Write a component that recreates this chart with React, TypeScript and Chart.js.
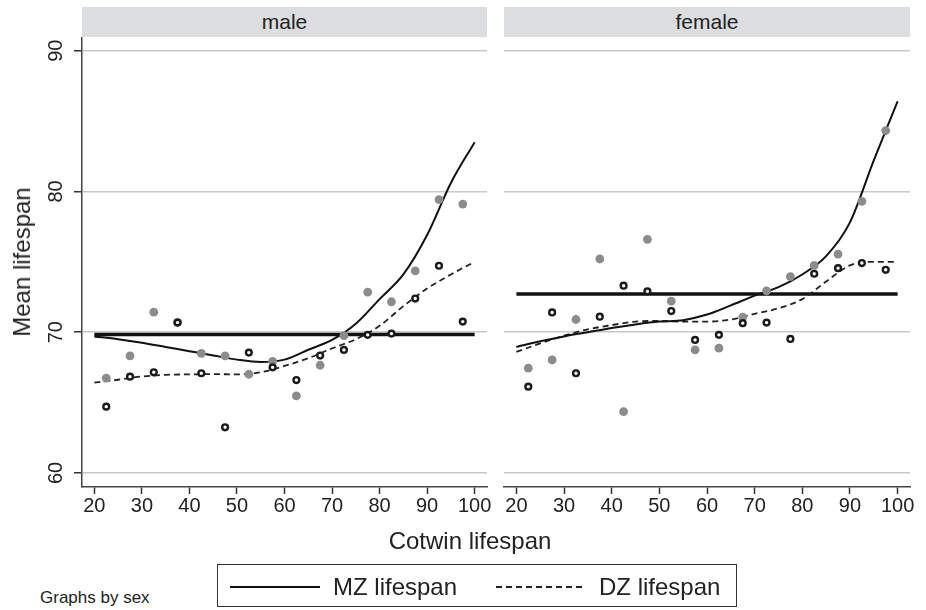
import React, { useEffect, useRef } from "react";
import { Chart, registerables } from "chart.js";
Chart.register(...registerables);

const FONT = "'Liberation Sans', Arial, Helvetica, sans-serif";

// Cotwin lifespan bins (midpoints)
const bins = [22.5, 27.5, 32.5, 37.5, 42.5, 47.5, 52.5, 57.5, 62.5, 67.5, 72.5, 77.5, 82.5, 87.5, 92.5, 97.5];

// Observed mean lifespans (MZ = grey filled, DZ = hollow)
const maleMZPoints = [66.73, 68.31, 71.42, 70.7, 68.5, 68.31, 67.01, 67.93, 65.47, 67.65, 69.76, 72.84, 72.16, 74.36, 79.41, 79.1];
const maleDZPoints = [64.71, 66.84, 67.15, 70.68, 67.08, 63.24, 68.55, 67.5, 66.6, 68.34, 68.74, 69.81, 69.9, 72.39, 74.72, 70.75];
const femaleMZPoints = [67.44, 68.03, 70.9, 75.2, 64.35, 76.6, 72.2, 68.74, 68.86, 71.07, 72.94, 73.95, 74.74, 75.55, 79.29, 84.32];
const femaleDZPoints = [66.13, 71.4, 67.08, 71.1, 73.3, 72.9, 71.5, 69.45, 69.81, 70.64, 70.68, 69.52, 74.15, 74.55, 74.91, 74.43];

// Smoothed curves
const curveX = [20, 25, 30, 35, 40, 45, 50, 55, 60, 65, 70, 75, 80, 85, 90, 95, 100];
const maleMZCurve = [69.7, 69.5, 69.25, 68.95, 68.65, 68.35, 68.05, 67.88, 68.05, 68.75, 69.45, 70.6, 72.35, 74.1, 76.9, 80.6, 83.5];
const maleDZCurve = [66.42, 66.62, 66.85, 66.97, 67.0, 67.02, 67.0, 67.15, 67.6, 68.15, 68.85, 69.5, 70.45, 71.85, 73.1, 74.1, 75.0];
const femaleMZCurve = [68.95, 69.35, 69.7, 70.0, 70.3, 70.55, 70.75, 70.85, 71.25, 71.9, 72.6, 73.2, 74.1, 75.4, 77.8, 82.2, 86.4];
const femaleDZCurve = [68.6, 69.2, 69.75, 70.2, 70.5, 70.75, 70.8, 70.75, 70.75, 70.9, 71.3, 71.7, 72.35, 73.6, 74.75, 75.0, 75.0];

// Overall mean lines
const meanX = [20, 100];
const maleMean = 69.83;
const femaleMean = 72.72;

const xTicks = [20, 30, 40, 50, 60, 70, 80, 90, 100];
const yTicks = [60, 70, 80, 90];

const yLabelPlugin = {
  id: "yLabels",
  afterDraw(chart: any) {
    const s = chart.scales.y;
    const ctx = chart.ctx;
    ctx.save();
    ctx.fillStyle = "#222";
    ctx.font = `20px ${FONT}`;
    ctx.textAlign = "center";
    ctx.textBaseline = "middle";
    yTicks.forEach((v) => {
      const y = s.getPixelForValue(v);
      ctx.save();
      ctx.translate(56, y);
      ctx.rotate(-Math.PI / 2);
      ctx.fillText(String(v), 0, 0);
      ctx.restore();
    });
    ctx.restore();
  },
};

type PanelProps = {
  left: number;
  width: number;
  padRight: number;
  showY: boolean;
  mz: number[];
  dz: number[];
  mzCurve: number[];
  dzCurve: number[];
  mean: number;
};

function Panel({ left, width, padRight, showY, mz, dz, mzCurve, dzCurve, mean }: PanelProps) {
  const ref = useRef<HTMLCanvasElement | null>(null);
  useEffect(() => {
    if (!ref.current) return;
    const chart = new Chart(ref.current, {
      type: "scatter",
      data: {
        datasets: [
          {
            label: "DZ",
            data: bins.map((x, i) => ({ x, y: dz[i] })),
            pointRadius: 2.9,
            pointBorderWidth: 2.4,
            pointBackgroundColor: "#ffffff",
            pointBorderColor: "#1a1a1a",
            order: 0,
          },
          {
            label: "MZ",
            data: bins.map((x, i) => ({ x, y: mz[i] })),
            pointRadius: 4.4,
            pointBorderWidth: 0,
            pointBackgroundColor: "#8c8c8c",
            pointBorderColor: "#8c8c8c",
            order: 1,
          },
          {
            label: "MZ curve",
            data: curveX.map((x, i) => ({ x, y: mzCurve[i] })),
            showLine: true,
            pointRadius: 0,
            borderColor: "#111",
            borderWidth: 2,
            cubicInterpolationMode: "monotone",
            order: 2,
          },
          {
            label: "DZ curve",
            data: curveX.map((x, i) => ({ x, y: dzCurve[i] })),
            showLine: true,
            pointRadius: 0,
            borderColor: "#222",
            borderWidth: 1.8,
            borderDash: [6, 4],
            cubicInterpolationMode: "monotone",
            order: 2,
          },
          {
            label: "mean",
            data: meanX.map((x) => ({ x, y: mean })),
            showLine: true,
            pointRadius: 0,
            borderColor: "#111",
            borderWidth: 3.5,
            order: 3,
          },
        ],
      } as any,
      options: {
        animation: false,
        responsive: false,
        devicePixelRatio: 1,
        events: [],
        layout: { padding: { top: 8, right: padRight, left: 0, bottom: 0 } },
        plugins: { legend: { display: false }, tooltip: { enabled: false } },
        scales: {
          x: {
            type: "linear",
            min: 17.4,
            max: 102.6,
            afterBuildTicks: (s: any) => {
              s.ticks = xTicks.map((v) => ({ value: v }));
            },
            afterFit: (s: any) => {
              s.height = 43;
            },
            grid: { drawOnChartArea: false, drawTicks: true, tickLength: 7, tickColor: "#333", tickWidth: 1.5 },
            border: { display: true, color: "#444", width: 1.5 },
            ticks: { font: { family: FONT, size: 20 }, color: "#222", padding: 0, maxRotation: 0, autoSkip: false },
          },
          y: {
            type: "linear",
            min: 59,
            max: 90.9,
            afterBuildTicks: (s: any) => {
              s.ticks = yTicks.map((v) => ({ value: v }));
            },
            afterFit: (s: any) => {
              s.width = showY ? 82 : 9;
            },
            grid: { color: "#c8c8c8", lineWidth: 1.5, drawTicks: showY, tickLength: 8, tickColor: "#333", tickWidth: 1.5 },
            border: { display: showY, color: "#444", width: 1.5 },
            ticks: { display: false },
          },
        },
      } as any,
      plugins: showY ? [yLabelPlugin] : [],
    });
    return () => chart.destroy();
  }, []);
  return (
    <canvas
      ref={ref}
      width={width}
      height={500}
      style={{ position: "absolute", left, top: 30, width, height: 500 }}
    />
  );
}

const headerStyle: React.CSSProperties = {
  position: "absolute",
  top: 7,
  height: 30,
  background: "#dcdddf",
  textAlign: "center",
  lineHeight: "30px",
  fontSize: 21,
  color: "#222",
  fontFamily: FONT,
};

const labelStyle: React.CSSProperties = {
  position: "absolute",
  color: "#222",
  whiteSpace: "nowrap",
  fontSize: 24,
};

export default function App() {
  return (
    <div style={{ position: "absolute", left: 0, top: 0, width: 926, height: 610, background: "#fff", fontFamily: FONT, overflow: "hidden" }}>
      <div style={{ ...headerStyle, left: 82, width: 405 }}>male</div>
      <div style={{ ...headerStyle, left: 504, width: 406 }}>female</div>
      <Panel left={0} width={495} padRight={8} showY={true} mz={maleMZPoints} dz={maleDZPoints} mzCurve={maleMZCurve} dzCurve={maleDZCurve} mean={maleMean} />
      <Panel left={495} width={431} padRight={16} showY={false} mz={femaleMZPoints} dz={femaleDZPoints} mzCurve={femaleMZCurve} dzCurve={femaleDZCurve} mean={femaleMean} />
      <div style={{ ...labelStyle, left: 22, top: 262, transform: "translate(-50%, -50%) rotate(-90deg)" }}>Mean lifespan</div>
      <div style={{ ...labelStyle, left: 470, top: 541, transform: "translate(-50%, -50%)" }}>Cotwin lifespan</div>
      <div style={{ ...labelStyle, left: 40, top: 598, transform: "translateY(-50%)", fontSize: 17 }}>Graphs by sex</div>
      <div style={{ position: "absolute", left: 217, top: 564, width: 520, height: 43, border: "1.5px solid #333", boxSizing: "border-box" }}>
        <div style={{ position: "absolute", left: 12, top: 21, width: 90, height: 2, background: "#111" }} />
        <div style={{ ...labelStyle, left: 115, top: 22, transform: "translateY(-50%)" }}>MZ lifespan</div>
        <div style={{ position: "absolute", left: 278, top: 21, width: 90, height: 2, backgroundImage: "repeating-linear-gradient(to right, #222 0px, #222 6px, transparent 6px, transparent 10px)" }} />
        <div style={{ ...labelStyle, left: 381, top: 22, transform: "translateY(-50%)" }}>DZ lifespan</div>
      </div>
    </div>
  );
}
